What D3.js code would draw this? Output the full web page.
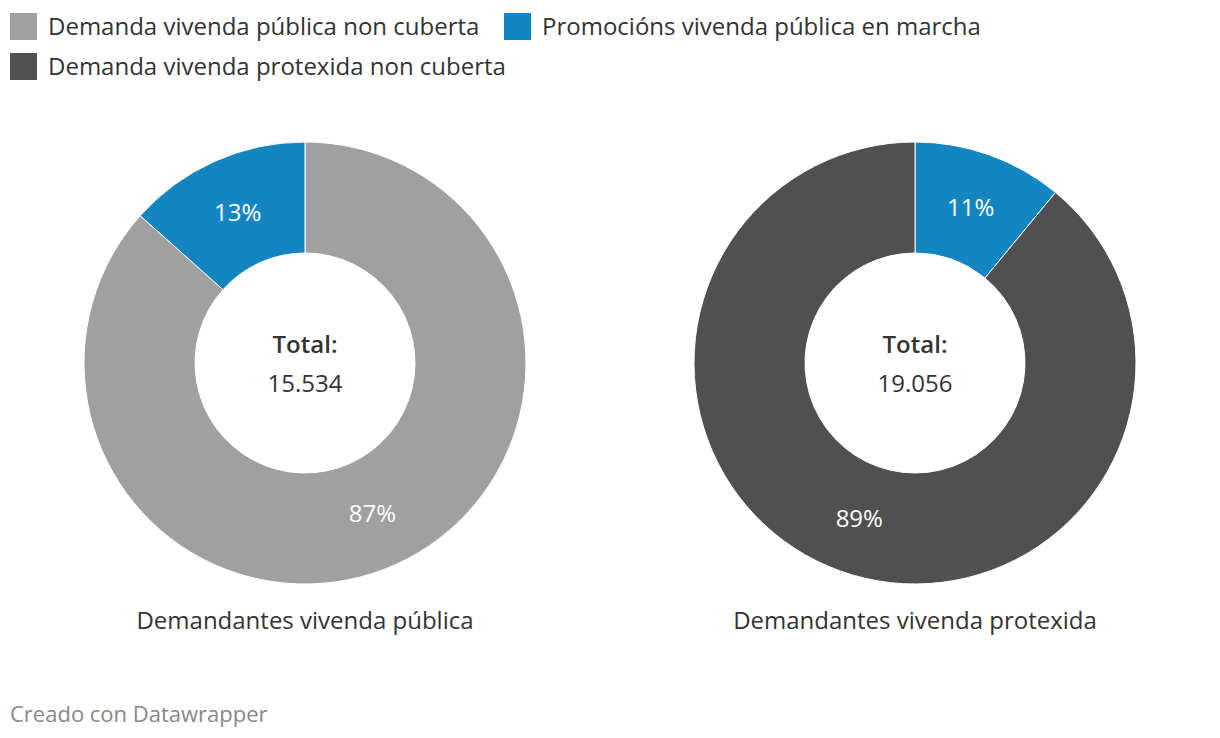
<!DOCTYPE html>
<html><head><meta charset="utf-8">
<script src="https://cdn.jsdelivr.net/npm/d3@7"></script>
<style>body{margin:0;background:#fff;font-family:"Open Sans",sans-serif;}</style>
</head><body>
<svg id="c" width="1220" height="738"></svg>
<script>
const legendLabels = ["Demanda vivenda pública non cuberta","Promocións vivenda pública en marcha","Demanda vivenda protexida non cuberta"];
const legendColors = ["#a0a0a0","#1386c1","#505050"];
const chartTitles = ["Demandantes vivenda pública","Demandantes vivenda protexida"];
const totals = ["15.534","19.056"];
const publicaCats = ["Demanda vivenda pública non cuberta","Promocións vivenda pública en marcha"];
const publicaValues = [13454, 2080];
const protexidaCats = ["Promocións vivenda pública en marcha","Demanda vivenda protexida non cuberta"];
const protexidaValues = [2090, 16966];

const svg = d3.select("#c");
const color = d3.scaleOrdinal().domain(legendLabels).range(legendColors);
const txt = "#333";

// legend
const legPos = [[10,13],[504,13],[10,53]];
legendLabels.forEach((l,i)=>{
  const g = svg.append("g").attr("transform",`translate(${legPos[i][0]},${legPos[i][1]})`);
  g.append("rect").attr("width",27).attr("height",27).attr("fill",color(l));
  g.append("text").attr("x",38).attr("y",22).attr("font-size",24).attr("fill",txt).text(l);
});

const charts = [
  {cx:305, cats:publicaCats, vals:publicaValues},
  {cx:915, cats:protexidaCats, vals:protexidaValues}
];
const cy = 363, R = 221, r = 110;
const pie = d3.pie().sort(null).value(d=>d.v);
const arc = d3.arc().innerRadius(r).outerRadius(R);
const lab = d3.arc().innerRadius(165).outerRadius(165);
const fmt = d3.format(".0%");

charts.forEach((c,i)=>{
  const data = c.cats.map((k,j)=>({k, v:c.vals[j]}));
  const sum = d3.sum(c.vals);
  const g = svg.append("g").attr("transform",`translate(${c.cx},${cy})`);
  const arcs = pie(data);
  g.selectAll("path").data(arcs).join("path")
    .attr("d",arc).attr("fill",d=>color(d.data.k))
    .attr("stroke","#fff").attr("stroke-width",1);
  g.selectAll("text.pct").data(arcs).join("text").attr("class","pct")
    .attr("transform",d=>`translate(${lab.centroid(d)})`)
    .attr("text-anchor","middle").attr("dy","0.35em")
    .attr("font-size",24).attr("fill","#fff")
    .text(d=>fmt(d.data.v/sum));
  g.append("text").attr("text-anchor","middle").attr("y",-10)
    .attr("font-size",24).attr("font-weight",600).attr("fill",txt).text("Total:");
  g.append("text").attr("text-anchor","middle").attr("y",29)
    .attr("font-size",24).attr("fill",txt).text(totals[i]);
  svg.append("text").attr("x",c.cx).attr("y",629).attr("text-anchor","middle")
    .attr("font-size",24).attr("fill",txt).text(chartTitles[i]);
});

svg.append("text").attr("x",10).attr("y",722).attr("font-size",22).attr("fill","#888").text("Creado con Datawrapper");
</script>
</body></html>
